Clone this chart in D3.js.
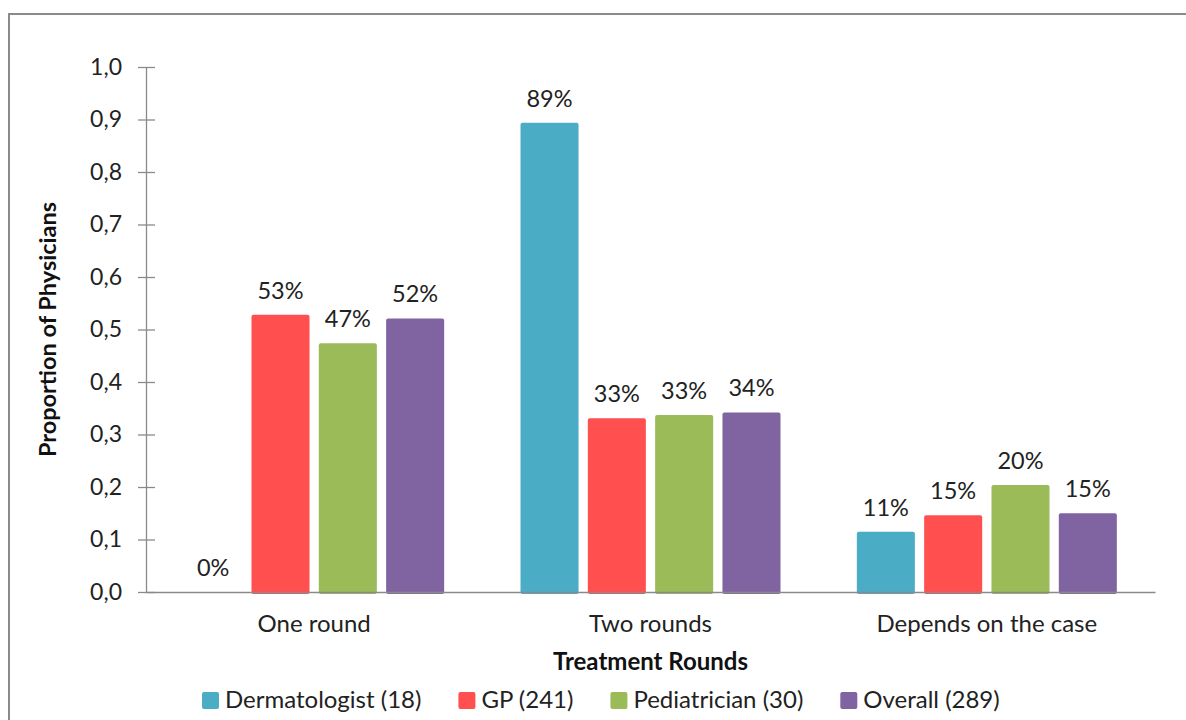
<!DOCTYPE html>
<html>
<head>
<meta charset="utf-8">
<script src="https://cdn.jsdelivr.net/npm/d3@7/dist/d3.min.js"></script>
<style>
  html, body { margin: 0; padding: 0; background: #fff; }
  svg { display: block; font-family: Lato, "Open Sans", sans-serif; }
</style>
</head>
<body>
<svg id="chart" width="1186" height="720"></svg>
<script>
const categories = ["One round", "Two rounds", "Depends on the case"];
const seriesNames = ["Dermatologist (18)", "GP (241)", "Pediatrician (30)", "Overall (289)"];
const dermatologist = [0.0, 0.894, 0.115];
const gp = [0.528, 0.331, 0.146];
const pediatrician = [0.474, 0.337, 0.204];
const overall = [0.521, 0.342, 0.150];
const valueLabels = [
  ["0%", "89%", "11%"],
  ["53%", "33%", "15%"],
  ["47%", "33%", "20%"],
  ["52%", "34%", "15%"]
];
const yTicks = [0, 0.1, 0.2, 0.3, 0.4, 0.5, 0.6, 0.7, 0.8, 0.9, 1.0];
const colors = ["#4BACC6", "#FF4F4F", "#9BBB59", "#8064A2"];

const series = [dermatologist, gp, pediatrician, overall];

const svg = d3.select("#chart");
const plotLeft = 146, plotRight = 1155, plotTop = 67, plotBottom = 592;

// outer border
svg.append("rect")
  .attr("x", 9).attr("y", 14).attr("width", 1240).attr("height", 760)
  .attr("fill", "none").attr("stroke", "#8a8a8a").attr("stroke-width", 2);

const y = d3.scaleLinear().domain([0, 1]).range([plotBottom, plotTop]);
const x0 = d3.scaleBand().domain(categories).range([plotLeft, plotRight]).padding(0);
const x1 = d3.scaleBand().domain(d3.range(series.length))
  .range([0, x0.bandwidth()]).paddingInner(0.138).paddingOuter(0.567);

// bars
const groups = svg.append("g").selectAll("g")
  .data(categories).join("g")
  .attr("transform", d => `translate(${x0(d)},0)`);

groups.each(function(cat, ci) {
  const g = d3.select(this);
  series.forEach((s, si) => {
    const v = s[ci];
    if (v > 0) {
      g.append("rect")
        .attr("x", x1(si))
        .attr("y", y(v))
        .attr("width", x1.bandwidth())
        .attr("height", y(0) - y(v) + 2)
        .attr("rx", 2)
        .attr("fill", colors[si]);
    }
    g.append("text")
      .attr("x", x1(si) + x1.bandwidth() / 2)
      .attr("y", y(v) - 16)
      .attr("text-anchor", "middle")
      .attr("font-size", 23.5)
      .attr("fill", "#222")
      .text(valueLabels[si][ci]);
  });
});

// y axis
const yAxis = d3.axisLeft(y).tickValues(yTicks).tickSize(0)
  .tickFormat(d => d3.format(".1f")(d).replace(".", ","));
const ya = svg.append("g").attr("transform", `translate(${plotLeft},0)`).call(yAxis);
ya.select(".domain").attr("stroke", "#8a8a8a").attr("stroke-width", 1.3);
ya.selectAll(".tick line").remove();
ya.selectAll(".tick").append("line")
  .attr("x1", -8).attr("x2", 9).attr("stroke", "#8a8a8a").attr("stroke-width", 1.3);
ya.selectAll(".tick text")
  .attr("x", -24).attr("font-size", 23).attr("fill", "#222")
  .attr("font-family", "Lato, sans-serif");

// x axis
const xAxis = d3.axisBottom(x0).tickSize(0).tickPadding(0);
const xa = svg.append("g").attr("transform", `translate(0,${plotBottom})`).call(xAxis);
xa.select(".domain").attr("stroke", "#8a8a8a").attr("stroke-width", 1.5);
xa.selectAll(".tick text")
  .attr("y", 40).attr("dy", 0).attr("font-size", 24).attr("fill", "#222")
  .attr("font-family", "Lato, sans-serif");

// axis titles
svg.append("text")
  .attr("x", (plotLeft + plotRight) / 2).attr("y", 670)
  .attr("text-anchor", "middle").attr("font-size", 24).attr("font-weight", "bold")
  .attr("fill", "#111")
  .text("Treatment Rounds");

svg.append("text")
  .attr("transform", `translate(56,${(plotTop + plotBottom) / 2}) rotate(-90)`)
  .attr("text-anchor", "middle").attr("font-size", 23.5).attr("font-weight", "bold")
  .attr("fill", "#111")
  .text("Proportion of Physicians");

// legend
const legend = svg.append("g");
let lx = 202;
seriesNames.forEach((name, i) => {
  legend.append("rect")
    .attr("x", lx).attr("y", 692).attr("width", 17).attr("height", 17)
    .attr("rx", 2).attr("fill", colors[i]);
  const t = legend.append("text")
    .attr("x", lx + 23).attr("y", 708)
    .attr("font-size", 24).attr("fill", "#222")
    .text(name);
  lx += 23 + t.node().getComputedTextLength() + 37;
});
</script>
</body>
</html>
